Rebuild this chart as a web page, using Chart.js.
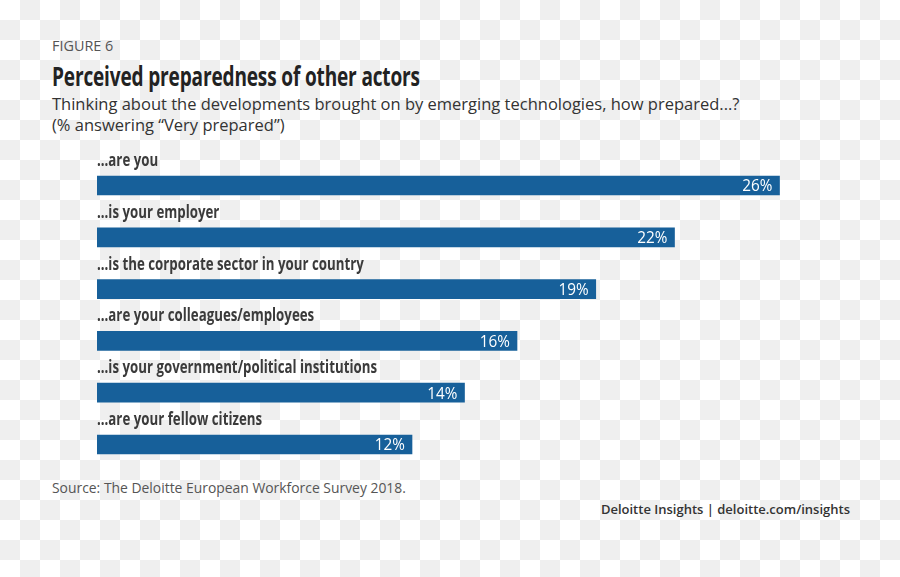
<!DOCTYPE html>
<html>
<head>
<meta charset="utf-8">
<script src="https://cdn.jsdelivr.net/npm/chart.js@4"></script>
<style>
  html, body { margin: 0; padding: 0; }
  body {
    width: 900px; height: 577px; position: relative; overflow: hidden;
    background: conic-gradient(#efefef 25%, #fff 0 50%, #efefef 0 75%, #fff 0) 0 0 / 40px 40px;
    font-family: "Open Sans", sans-serif;
  }
  .txt { position: absolute; white-space: nowrap; }
  #fig { left: 52px; top: 36px; font-size: 14.4px; color: #555; }
  #title { left: 52px; top: 58px; font-size: 26px; font-weight: bold; color: #222;
    transform-origin: 0 0; letter-spacing: -0.2px; }
  #sub { left: 52px; top: 93px; font-size: 16.5px; line-height: 21px; color: #333; }
  #source { left: 52px; top: 478px; font-size: 13.9px; color: #555; }
  #credit { right: 50px; top: 500px; font-size: 13px; font-weight: 600; color: #333; }
  canvas { position: absolute; left: 0; top: 0; }
</style>
</head>
<body>
<div class="txt" id="fig">FIGURE 6</div>
<div class="txt" id="title">Perceived preparedness of other actors</div>
<div class="txt" id="sub">Thinking about the developments brought on by emerging technologies, how prepared...?<br>(% answering “Very prepared”)</div>
<div class="txt" id="source">Source: The Deloitte European Workforce Survey 2018.</div>
<div class="txt" id="credit">Deloitte Insights | deloitte.com/insights</div>
<canvas id="chart" width="900" height="577"></canvas>
<script>
const categories = [
  '...are you',
  '...is your employer',
  '...is the corporate sector in your country',
  '...are your colleagues/employees',
  '...is your government/political institutions',
  '...are your fellow citizens'
]
const values = [26, 22, 19, 16, 14, 12]

// squeeze the title to look like the condensed face of the original
const titleEl = document.getElementById('title')
titleEl.style.transform = `scaleX(${368 / titleEl.offsetWidth})`

const labelFont = 'bold 17px "Open Sans", sans-serif'

// labels above each bar + value inside the bar end
const barLabels = {
  id: 'barLabels',
  afterDatasetsDraw(chart) {
    const ctx = chart.ctx
    const meta = chart.getDatasetMeta(0)
    ctx.save()
    ctx.font = labelFont
    // condensed look: scale so the longest label matches the original width
    const squeeze = 280 / ctx.measureText(categories[4]).width
    meta.data.forEach((bar, i) => {
      const top = bar.y - bar.height / 2
      ctx.save()
      ctx.translate(chart.chartArea.left, top - 10)
      ctx.scale(squeeze, 1)
      ctx.font = labelFont
      ctx.fillStyle = '#3b3b3b'
      ctx.textAlign = 'left'
      ctx.textBaseline = 'alphabetic'
      ctx.fillText(categories[i], 0, 0)
      ctx.restore()

      ctx.save()
      ctx.translate(bar.x - 7, bar.y + 1)
      ctx.scale(0.9, 1)
      ctx.font = '17px "Open Sans", sans-serif'
      ctx.fillStyle = '#ffffff'
      ctx.textAlign = 'right'
      ctx.textBaseline = 'middle'
      ctx.fillText(values[i] + '%', 0, 0)
      ctx.restore()
    })
    ctx.restore()
  }
}

new Chart(document.getElementById('chart').getContext('2d'), {
  type: 'bar',
  data: {
    labels: categories,
    datasets: [{
      data: values,
      backgroundColor: '#17609a',
      barThickness: 19
    }]
  },
  options: {
    indexAxis: 'y',
    responsive: false,
    animation: false,
    layout: { padding: { left: 97, right: 15.5, top: 159.6, bottom: 106.6 } },
    plugins: { legend: { display: false }, tooltip: { enabled: false } },
    scales: {
      x: { display: false, min: 0, max: 30 },
      y: { display: false }
    }
  },
  plugins: [barLabels]
})
</script>
</body>
</html>
